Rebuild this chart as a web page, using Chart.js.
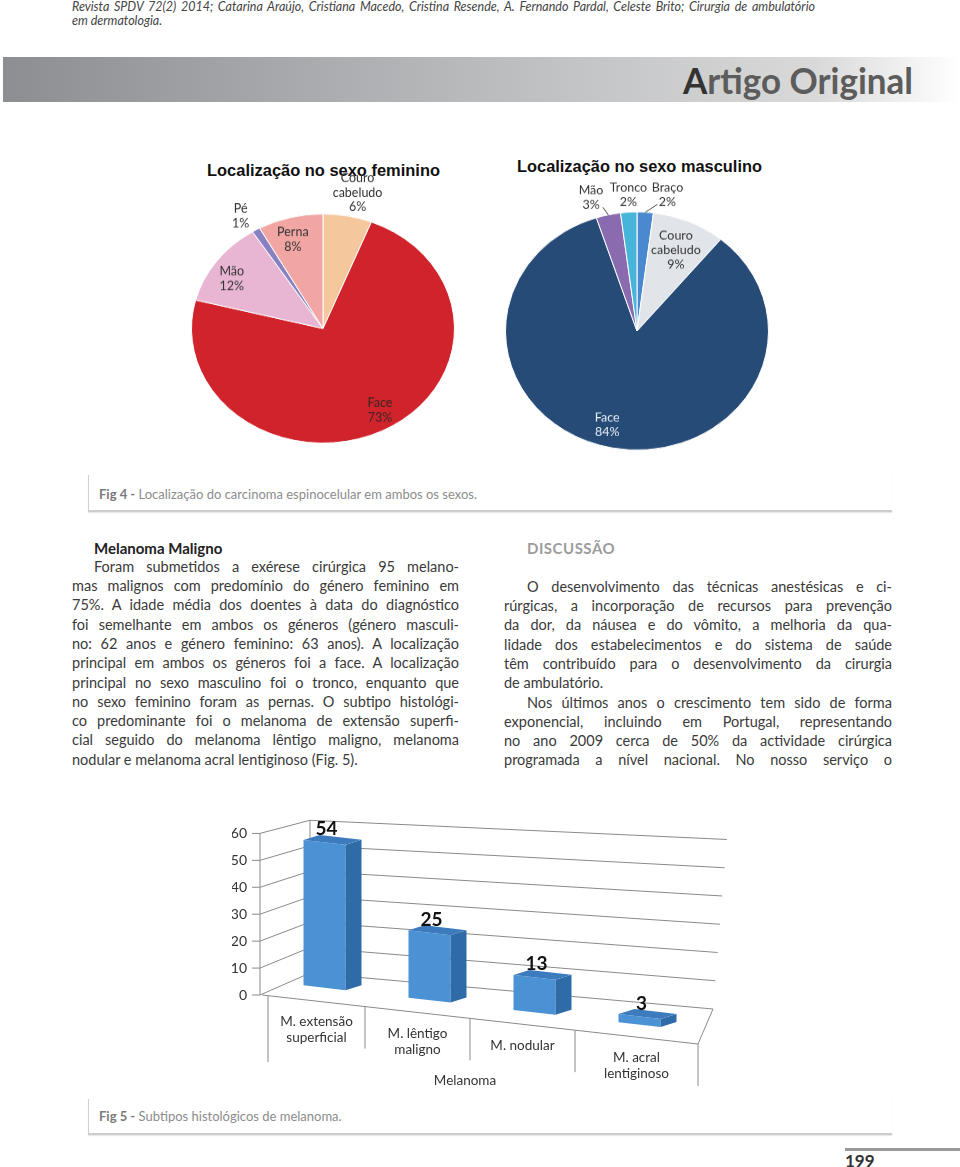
<!DOCTYPE html>
<html lang="pt">
<head>
<meta charset="utf-8">
<title>Revista SPDV - Fig 4 e Fig 5</title>
<script src="https://cdn.jsdelivr.net/npm/chart.js@4.4.1/dist/chart.umd.min.js"></script>
<style>
  body { margin: 0; width: 960px; height: 1167px; position: relative; overflow: hidden; background: #fff;
         font-family: Lato, "Open Sans", sans-serif; color: #3a3a3a; }
  .ln { position: absolute; white-space: nowrap; display: inline-block; line-height: 1; z-index: 1; }
  .banner { position: absolute; left: 3px; top: 57px; width: 957px; height: 45px;
            background: linear-gradient(to right, #8d8e92 0%, #a8a9ac 30%, #c3c4c6 60%, #d9d9d9 85%, #ffffff 100%); }
  .cap { position: absolute; left: 88px; width: 803px; border-left: 1px solid #d0d0d0; border-bottom: 2px solid #cdcdcd;
         box-shadow: 0 1px 1px #e8e8e8; }
  .pgline { position: absolute; left: 845px; top: 1148px; width: 115px; height: 3px; background: #9a9a9a; }
  canvas { position: absolute; z-index: 2; }
</style>
</head>
<body>
<div class="banner"></div>
<div class="cap" style="top:475px;height:35px"></div>
<div class="cap" style="top:1099px;height:34px"></div>
<div class="pgline"></div>

<canvas id="pieFem" width="340" height="380" style="left:153px;top:163px;width:340px;height:331px"></canvas>
<canvas id="pieMasc" width="340" height="380" style="left:467px;top:159px;width:340px;height:344px"></canvas>
<canvas id="bars" width="660" height="300" style="left:150px;top:800px;width:660px;height:300px"></canvas>

<script>
// Fig 4 - feminino
const femLabels = ["Couro cabeludo", "Face", "Mão", "Pé", "Perna"];
const femValues = [6, 73, 12, 1, 8];
const femColors = ["#f5c79d", "#d0232b", "#e8b6d2", "#8781c2", "#f1a6a3"];

// Fig 4 - masculino
const mascLabels = ["Braço", "Couro cabeludo", "Face", "Mão", "Tronco"];
const mascValues = [2, 9, 84, 3, 2];
const mascColors = ["#4a89cf", "#e1e5ea", "#274b77", "#8a6bb0", "#47b4da"];

// Fig 5 - subtipos de melanoma
const barLabels = [["M. extensão", "superficial"], ["M. lêntigo", "maligno"], ["M. nodular"], ["M. acral", "lentiginoso"]];
const barValues = [54, 25, 13, 3];
const yMin = 0, yMax = 60, yStep = 10;

// ---------- page text ----------
function put(html, x, yc, w, o = {}) {
  const el = document.createElement("div");
  el.className = "ln";
  el.innerHTML = html;
  el.style.left = x + "px";
  el.style.fontSize = (o.size || 14.5) + "px";
  if (o.weight) el.style.fontWeight = o.weight;
  if (o.italic) el.style.fontStyle = "italic";
  if (o.color) el.style.color = o.color;
  if (o.font) el.style.fontFamily = o.font;
  if (o.ls) el.style.letterSpacing = o.ls;
  document.body.appendChild(el);
  const r = el.getBoundingClientRect();
  el.style.top = (yc - r.height / 2) + "px";
  if (w) {
    if (r.width > w) {
      el.style.transformOrigin = "0 50%";
      el.style.transform = `scaleX(${w / r.width})`;
    } else if (o.justify) {
      el.style.width = w + "px";
      el.style.whiteSpace = "normal";
      el.style.textAlign = "justify";
      el.style.textAlignLast = "justify";
    }
  }
  return el;
}

put("Revista SPDV 72(2) 2014; Catarina Araújo, Cristiana Macedo, Cristina Resende, A. Fernando Pardal, Celeste Brito; Cirurgia de ambulatório",
    72, 7, 743, { size: 12.5, italic: true, color: "#444", justify: true });
put("em dermatologia.", 72, 21, 93, { size: 12.5, italic: true, color: "#444" });

put('<span style="color:#333">A</span>rtigo Original', 683, 80, 230, { size: 36, weight: 700, color: "#5c5c5c" });

put("Localização no sexo feminino", 207, 170, 233, { size: 16.5, weight: 700, color: "#111", font: "'Liberation Sans', Arial, sans-serif" });
put("Localização no sexo masculino", 517, 166, 245, { size: 16.5, weight: 700, color: "#111", font: "'Liberation Sans', Arial, sans-serif" });

put('<b style="color:#7a7a7a">Fig 4 -</b> <span style="color:#8c8c8c">Localização do carcinoma espinocelular em ambos os sexos.</span>',
    99, 494, 418, { size: 13 });
put('<b style="color:#7a7a7a">Fig 5 -</b> <span style="color:#8c8c8c">Subtipos histológicos de melanoma.</span>',
    99, 1116, 268, { size: 13 });

put("Melanoma Maligno", 94, 548, 158, { size: 15, weight: 700, color: "#222" });
put("DISCUSSÃO", 527, 548, 93, { size: 15, weight: 700, color: "#9c9c9c", ls: "0.5px" });

const leftLines = [
  "Foram submetidos a exérese cirúrgica 95 melano-",
  "mas malignos com predomínio do género feminino em",
  "75%. A idade média dos doentes à data do diagnóstico",
  "foi semelhante em ambos os géneros (género masculi-",
  "no: 62 anos e género feminino: 63 anos). A localização",
  "principal em ambos os géneros foi a face. A localização",
  "principal no sexo masculino foi o tronco, enquanto que",
  "no sexo feminino foram as pernas. O subtipo histológi-",
  "co predominante foi o melanoma de extensão superfi-",
  "cial seguido do melanoma lêntigo maligno, melanoma",
  "nodular e melanoma acral lentiginoso (Fig. 5)."
];
const rightLines = [
  "O desenvolvimento das técnicas anestésicas e ci-",
  "rúrgicas, a incorporação de recursos para prevenção",
  "da dor, da náusea e do vômito, a melhoria da qua-",
  "lidade dos estabelecimentos e do sistema de saúde",
  "têm contribuído para o desenvolvimento da cirurgia",
  "de ambulatório.",
  "Nos últimos anos o crescimento tem sido de forma",
  "exponencial, incluindo em Portugal, representando",
  "no ano 2009 cerca de 50% da actividade cirúrgica",
  "programada a nível nacional. No nosso serviço o"
];
const LH = 19.3;
leftLines.forEach((t, i) => {
  const ind = i === 0 ? 22 : 0;
  put(t, 72 + ind, 567 + i * LH, 387 - ind, { justify: i !== leftLines.length - 1 });
});
rightLines.forEach((t, i) => {
  const ind = (i === 0 || i === 6) ? 23 : 0;
  const w = i === 5 ? 0 : 388 - ind;
  put(t, 504 + ind, 587 + i * LH, w, { justify: i !== 5 });
});

put("199", 845, 1160, 32, { size: 17, weight: 700, color: "#333" });

// ---------- pies ----------
function pieLabelPlugin(place, sy, textColors) {
  return {
    id: "pieLabels",
    afterDatasetsDraw(chart) {
      const ctx = chart.ctx;
      const ds = chart.data.datasets[0];
      chart.getDatasetMeta(0).data.forEach((arc, i) => {
        const p = place[i];
        const { x, y, startAngle, endAngle, outerRadius } =
          arc.getProps(["x", "y", "startAngle", "endAngle", "outerRadius"], true);
        const a = (startAngle + endAngle) / 2;
        const px = x + Math.cos(a) * outerRadius * p.f + p.dx;
        const py = y + Math.sin(a) * outerRadius * p.f + p.dy;
        if (p.lead) {
          ctx.save();
          ctx.beginPath();
          ctx.moveTo(x + Math.cos(a) * outerRadius, y + Math.sin(a) * outerRadius);
          ctx.lineTo(px + p.lead[0], py + p.lead[1]);
          ctx.strokeStyle = "#444";
          ctx.lineWidth = 1;
          ctx.stroke();
          ctx.restore();
        }
        const lines = chart.data.labels[i].split(" ").concat(ds.data[i] + "%");
        ctx.save();
        ctx.translate(px, py);
        ctx.scale(1, 1 / sy);
        ctx.font = "12.5px Lato";
        ctx.fillStyle = textColors[i] || "#333";
        ctx.textAlign = "center";
        ctx.textBaseline = "middle";
        lines.forEach((t, k) => ctx.fillText(t, 0, (k - (lines.length - 1) / 2) * 14.5));
        ctx.restore();
      });
    }
  };
}

function pieChart(id, labels, values, colors, place, sy, textColors) {
  return new Chart(document.getElementById(id), {
    type: "pie",
    data: {
      labels,
      datasets: [{ data: values, backgroundColor: colors, borderColor: "#fff", borderWidth: 1, hoverOffset: 0, offset: 0 }]
    },
    options: {
      responsive: false,
      animation: false,
      layout: { padding: { left: 38, right: 38, top: 58, bottom: 58 } },
      plugins: { legend: { display: false }, tooltip: { enabled: false } }
    },
    plugins: [pieLabelPlugin(place, sy, textColors)]
  });
}

pieChart("pieFem", femLabels, femValues, femColors, [
  { f: 1.2, dx: 5, dy: -1 },
  { f: 0.82, dx: 8, dy: -2 },
  { f: 0.82, dx: -4, dy: 6 },
  { f: 1.14, dx: -6, dy: 0 },
  { f: 0.8, dx: -4, dy: 0 }
], 0.871, ["#333", "#3a2626", "#333", "#333", "#333"]);

pieChart("pieMasc", mascLabels, mascValues, mascColors, [
  { f: 1.15, dx: 21, dy: 0, lead: [-10, 11] },
  { f: 0.745, dx: 0, dy: 0 },
  { f: 0.8, dx: -10, dy: 0 },
  { f: 1.15, dx: -13, dy: 0, lead: [12, 11] },
  { f: 1.15, dx: 1, dy: 0 }
], 0.905, ["#333", "#333", "#e8eef6", "#333", "#333"]);

// ---------- 3D bar chart ----------
const K = 0.117;        // vertical skew of the bar row (perspective)
const X0 = 236;         // skew pivot
const DEPTH = [16, -5]; // extrusion of bars
const FRONT = "#4a92d3", SIDE = "#2f6ba7", TOP = "#3c7cbe";
const LINE = "#8a8a8a";

const perspective = {
  id: "perspective",
  beforeDatasetsDraw(chart) {
    const ctx = chart.ctx;
    const ys = chart.scales.y, xs = chart.scales.x;
    const yf = v => ys.getPixelForValue(v);
    const y0 = yf(yMin);
    const h = v => y0 - yf(v);
    const AX = 110, BX = 160;
    const yb = v => y0 - 22 - h(v) * 0.945;
    const xr = v => 563 + h(v) * 0.086;
    const yr = v => y0 + 14 - h(v) * 1.049;
    const seg = (a, b, c, d) => { ctx.beginPath(); ctx.moveTo(a, b); ctx.lineTo(c, d); ctx.stroke(); };

    ctx.save();
    ctx.strokeStyle = LINE;
    ctx.lineWidth = 1;
    for (let v = yMin; v <= yMax; v += yStep) {
      seg(AX - 8, yf(v), AX, yf(v));
      seg(AX, yf(v), BX, yb(v));
      seg(BX, yb(v), xr(v), yr(v));
    }
    seg(AX, yf(yMax), AX, y0);
    seg(BX, yb(yMax), BX, yb(yMin));

    // floor
    const FL = 112, FR = 548, Kf = 49 / 436;
    const ef = x => y0 + Kf * (x - FL);
    seg(FL, y0, FR, ef(FR));
    seg(FR, ef(FR), xr(yMin), yr(yMin));

    // category boxes
    const step = xs.getPixelForValue(1) - xs.getPixelForValue(0);
    const seps = [118];
    for (let i = 0; i < barLabels.length - 1; i++) seps.push(xs.getPixelForValue(i) + step / 2 - 12);
    seps.push(FR);
    seps.forEach((x, i) => seg(x, ef(x), x, i === 0 ? 262 : ef(x) + 42));

    ctx.fillStyle = "#333";
    ctx.font = "13.5px Lato";
    ctx.textAlign = "center";
    ctx.textBaseline = "middle";
    chart.data.labels.forEach((lab, i) => {
      const mx = (seps[i] + seps[i + 1]) / 2;
      lab.forEach((t, k) => ctx.fillText(t, mx, ef(mx) + 21 + k * 16));
    });
    ctx.fillText("Melanoma", 315, 281);
    ctx.restore();

    // skew the bars so the row recedes like the reference
    ctx.save();
    ctx.transform(1, K, 0, 1, 0, -K * X0);
  },
  afterDatasetsDraw(chart) {
    const ctx = chart.ctx;
    const meta = chart.getDatasetMeta(0);
    const [dx, dyS] = DEPTH;
    const dy = dyS - K * dx;
    const poly = pts => {
      ctx.beginPath();
      pts.forEach(([a, b], i) => i ? ctx.lineTo(a, b) : ctx.moveTo(a, b));
      ctx.closePath();
      ctx.fill();
    };
    meta.data.forEach(bar => {
      const { x, y, base, width } = bar.getProps(["x", "y", "base", "width"], true);
      const L = x - width / 2, R = x + width / 2;
      ctx.fillStyle = SIDE;
      poly([[R, y], [R + dx, y + dy], [R + dx, base + dy], [R, base]]);
      ctx.fillStyle = TOP;
      poly([[L, y], [R, y], [R + dx, y + dy], [L + dx, y + dy]]);
    });
    ctx.restore();

    ctx.save();
    ctx.fillStyle = "#111";
    ctx.font = "bold 19px Lato";
    ctx.textAlign = "center";
    ctx.textBaseline = "middle";
    meta.data.forEach((bar, i) => {
      const top = bar.y + K * (bar.x - X0);
      ctx.fillText(String(chart.data.datasets[0].data[i]), bar.x + 2, top - 13);
    });
    ctx.restore();
  }
};

new Chart(document.getElementById("bars"), {
  type: "bar",
  data: {
    labels: barLabels,
    datasets: [{
      data: barValues,
      backgroundColor: FRONT,
      borderWidth: 0,
      barPercentage: 0.4,
      categoryPercentage: 1,
      clip: false
    }]
  },
  options: {
    responsive: false,
    animation: false,
    layout: { padding: { left: 82, right: 118, top: 32, bottom: 105 } },
    plugins: { legend: { display: false }, tooltip: { enabled: false } },
    scales: {
      x: { display: false },
      y: {
        min: yMin,
        max: yMax,
        afterFit(scale) { scale.width = 40; },
        border: { display: false },
        grid: { display: false, drawTicks: false },
        ticks: { stepSize: yStep, padding: 25, color: "#333", font: { family: "Lato", size: 14 } }
      }
    }
  },
  plugins: [perspective]
});
</script>
</body>
</html>
